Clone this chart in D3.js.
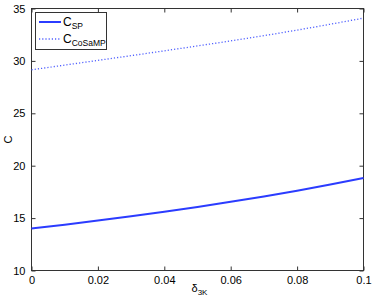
<!DOCTYPE html>
<html><head><meta charset="utf-8">
<script src="https://cdn.jsdelivr.net/npm/d3@7"></script>
<style>body{margin:0;background:#fff}svg{display:block;font-family:"Liberation Sans",Arial,sans-serif}</style>
</head><body><svg id="c" width="374" height="302"></svg>
<script>
const xVals = [0,0.01,0.02,0.03,0.04,0.05,0.06,0.07,0.08,0.09,0.1];
const cSP = [14.0,14.37,14.76,15.17,15.6,16.06,16.55,17.07,17.62,18.2,18.82];
const cCoSaMP = [29.15,29.6,30.05,30.5,30.96,31.43,31.91,32.41,32.94,33.5,34.08];
const xTicks = [0,0.02,0.04,0.06,0.08,0.1];
const yTicks = [10,15,20,25,30,35];
const seriesNames = ["SP","CoSaMP"];

const svg = d3.select("#c");
const L=31.5, R=363.5, T=8.5, B=270.5;
const x = d3.scaleLinear().domain([0,0.1]).range([L,R]);
const y = d3.scaleLinear().domain([10,35]).range([B,T]);
const ax="#333";

svg.append("rect").attr("x",L).attr("y",T).attr("width",R-L).attr("height",B-T).attr("fill","#fff").attr("stroke",ax).attr("stroke-width",1);

const fmt = d=> d===0? "0" : String(d);
const gx = svg.append("g").attr("transform",`translate(0,${B})`).call(d3.axisBottom(x).tickValues(xTicks).tickFormat(fmt).tickSizeInner(-4).tickSizeOuter(0).tickPadding(6));
const gxt = svg.append("g").attr("transform",`translate(0,${T})`).call(d3.axisTop(x).tickValues(xTicks).tickFormat("").tickSizeInner(-4).tickSizeOuter(0));
const gy = svg.append("g").attr("transform",`translate(${L},0)`).call(d3.axisLeft(y).tickValues(yTicks).tickSizeInner(-4).tickSizeOuter(0).tickPadding(6));
const gyr = svg.append("g").attr("transform",`translate(${R},0)`).call(d3.axisRight(y).tickValues(yTicks).tickFormat("").tickSizeInner(-4).tickSizeOuter(0));
[gx,gxt,gy,gyr].forEach(g=>{g.select(".domain").remove();g.selectAll("line").attr("stroke",ax);g.selectAll("text").attr("fill","#000").attr("font-size",11).attr("font-family","Liberation Sans, Arial, sans-serif");});

const line = d3.line().x((d,i)=>x(xVals[i])).y(d=>y(d)).curve(d3.curveMonotoneX);
svg.append("path").datum(cSP).attr("d",line).attr("fill","none").attr("stroke","#2b3cff").attr("stroke-width",2);
svg.append("path").datum(cCoSaMP).attr("d",line).attr("fill","none").attr("stroke","#5060ff").attr("stroke-width",1.3).attr("stroke-dasharray","1.2,2");

// legend
const lg = svg.append("g");
lg.append("rect").attr("x",35.5).attr("y",12.5).attr("width",71).attr("height",37).attr("fill","#fff").attr("stroke",ax);
const styles=[{w:2,da:null,c:"#2b3cff"},{w:1.3,da:"1.2,2",c:"#5060ff"}];
seriesNames.forEach((n,i)=>{
  const yy = 22+i*17;
  const l = lg.append("line").attr("x1",39).attr("x2",61).attr("y1",yy).attr("y2",yy).attr("stroke",styles[i].c).attr("stroke-width",styles[i].w);
  if(styles[i].da) l.attr("stroke-dasharray",styles[i].da);
  const t = lg.append("text").attr("x",63).attr("y",yy+4).attr("font-size",12);
  t.append("tspan").text("C");
  t.append("tspan").attr("dy",3).attr("font-size",8.5).text(n);
});

svg.append("text").attr("transform",`translate(12,${(T+B)/2}) rotate(-90)`).attr("text-anchor","middle").attr("font-size",11).text("C");
const xl = svg.append("text").attr("x",(L+R)/2-6).attr("y",292).attr("font-size",11);
xl.append("tspan").text("δ");
xl.append("tspan").attr("dy",3).attr("font-size",8).text("3K");
</script></body></html>
